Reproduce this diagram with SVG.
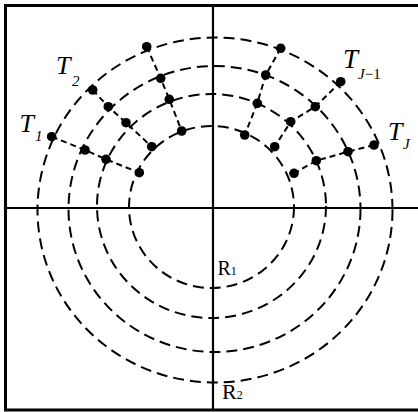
<svg xmlns="http://www.w3.org/2000/svg" width="418" height="412" viewBox="0 0 418 412">
<style>
.ring{fill:none;stroke:#000;stroke-width:2;stroke-dasharray:11 6}
.spoke{fill:none;stroke:#000;stroke-width:2;stroke-dasharray:6 4}
.axis{stroke:#000;stroke-width:2.2}
.dot{fill:#000}
.t{font-family:"Liberation Serif","Times New Roman",serif;font-style:italic;fill:#000}
.r{font-family:"Liberation Serif","Times New Roman",serif;fill:#000}
</style>
<rect x="5.5" y="5.5" width="420" height="404.5" fill="#fff" stroke="#000" stroke-width="3"/>
<g id="axes">
<line class="axis" x1="5" y1="208" x2="418" y2="208"/>
<line class="axis" x1="213" y1="5" x2="213" y2="410"/>
</g>
<g id="rings">
<ellipse class="ring" cx="211.5" cy="207" rx="82.5" ry="81"/>
<ellipse class="ring" cx="211.5" cy="206" rx="114.5" ry="112"/>
<ellipse class="ring" cx="214.5" cy="209" rx="146" ry="143"/>
<ellipse class="ring" cx="215" cy="210" rx="177.5" ry="172.5"/>
</g>
<g id="connectors">
<polyline class="spoke" points="51.7,136.7 85,150 106,159.3 139.3,172.7"/>
<polyline class="spoke" points="92.7,90 108.3,106.7 126,122.7 151.7,146.7"/>
<polyline class="spoke" points="146.7,46.7 160.7,78.3 169.3,99.3 181.7,131"/>
<polyline class="spoke" points="280.7,48.3 265.7,75 257.3,103.3 244.7,135"/>
<polyline class="spoke" points="340.7,81.7 315.3,106.7 290.7,121.7 274.7,146.7"/>
<polyline class="spoke" points="374,145 348,151.7 316.3,160.7 294,173.3"/>
</g>
<g id="nodes-left">
<circle class="dot" cx="51.7" cy="136.7" r="4.8"/>
<circle class="dot" cx="85" cy="150" r="4.8"/>
<circle class="dot" cx="106" cy="159.3" r="4.8"/>
<circle class="dot" cx="139.3" cy="172.7" r="4.8"/>
<circle class="dot" cx="92.7" cy="90" r="4.8"/>
<circle class="dot" cx="108.3" cy="106.7" r="4.8"/>
<circle class="dot" cx="126" cy="122.7" r="4.8"/>
<circle class="dot" cx="151.7" cy="146.7" r="4.8"/>
<circle class="dot" cx="146.7" cy="46.7" r="4.8"/>
<circle class="dot" cx="160.7" cy="78.3" r="4.8"/>
<circle class="dot" cx="169.3" cy="99.3" r="4.8"/>
<circle class="dot" cx="181.7" cy="131" r="4.8"/>
</g>
<g id="nodes-right">
<circle class="dot" cx="280.7" cy="48.3" r="4.8"/>
<circle class="dot" cx="265.7" cy="75" r="4.8"/>
<circle class="dot" cx="257.3" cy="103.3" r="4.8"/>
<circle class="dot" cx="244.7" cy="135" r="4.8"/>
<circle class="dot" cx="340.7" cy="81.7" r="4.8"/>
<circle class="dot" cx="315.3" cy="106.7" r="4.8"/>
<circle class="dot" cx="290.7" cy="121.7" r="4.8"/>
<circle class="dot" cx="274.7" cy="146.7" r="4.8"/>
<circle class="dot" cx="374" cy="145" r="4.8"/>
<circle class="dot" cx="348" cy="151.7" r="4.8"/>
<circle class="dot" cx="316.3" cy="160.7" r="4.8"/>
<circle class="dot" cx="294" cy="173.3" r="4.8"/>
</g>
<g id="label-T1"><text class="t" x="19.5" y="131.5" font-size="26">T</text><text class="t" x="35" y="140.5" font-size="15" font-style="normal">1</text></g>
<g id="label-T2"><text class="t" x="56" y="74" font-size="26">T</text><text class="t" x="72" y="85.5" font-size="15" font-style="normal">2</text></g>
<g id="label-TJ-1"><text class="t" x="343" y="68.3" font-size="27">T</text><text class="t" x="358" y="78.5" font-size="15">J<tspan font-style="normal">−1</tspan></text></g>
<g id="label-TJ"><text class="t" x="388" y="140" font-size="26">T</text><text class="t" x="403" y="148.5" font-size="15">J</text></g>
<g id="label-R1"><text class="r" x="217.5" y="275" font-size="20">R<tspan font-size="12">1</tspan></text></g>
<g id="label-R2"><text class="r" x="222" y="399" font-size="22">R<tspan font-size="12">2</tspan></text></g>
</svg>
